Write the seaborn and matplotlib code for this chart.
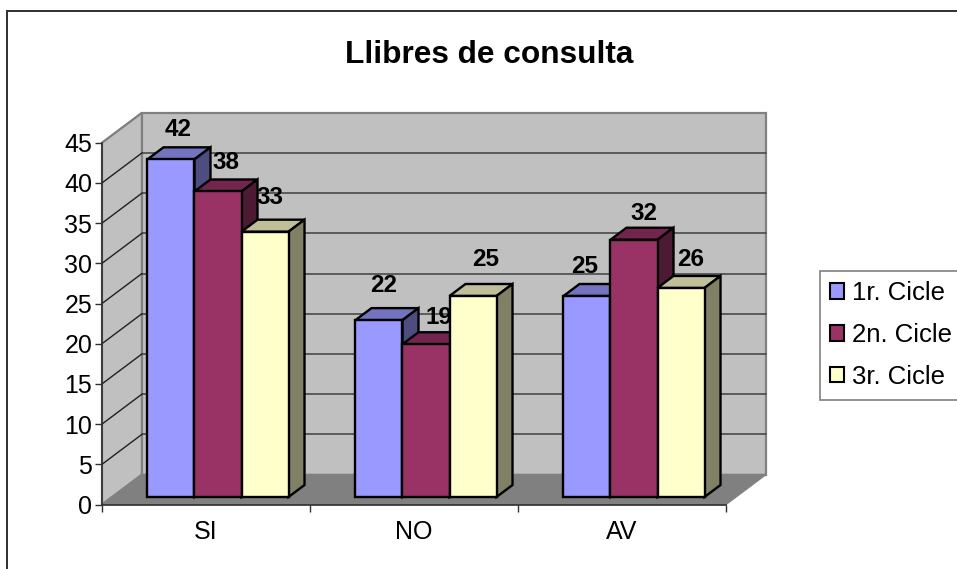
from __future__ import annotations

import matplotlib
matplotlib.use("Agg")
import matplotlib.pyplot as plt
import pandas as pd
import seaborn as sns
from matplotlib.patches import Polygon, Rectangle

categories = ["SI", "NO", "AV"]
cicles = ["1r. Cicle", "2n. Cicle", "3r. Cicle"]
cicle_1 = [42, 22, 25]
cicle_2 = [38, 19, 32]
cicle_3 = [33, 25, 26]
yticks = list(range(0, 50, 5))

front_colors = ["#9999FF", "#993366", "#FFFFCC"]
top_colors = ["#7373BF", "#73264D", "#BFBF99"]
side_colors = ["#4D4D80", "#4D1A33", "#808066"]

# the labels sit a bit unevenly in the original, pixel nudges left to right
label_nudge = [(7, 18), (8, 17), (5, 22), (5, 23), (13, 15), (13, 24), (-2, 17), (10, 14), (10, 16)]

W, H = 957, 569
# plot box in pixels, the chart is a fake 3d one so the rest hangs off this
LEFT, RIGHT, TOP, BOTTOM = 102, 726, 142.7, 504.5

sns.set_style("ticks")
plt.rcParams["font.family"] = ["Liberation Sans", "DejaVu Sans"]
plt.rcParams["text.color"] = "black"
plt.rcParams["xtick.labelcolor"] = "black"
plt.rcParams["ytick.labelcolor"] = "black"

df = pd.DataFrame(
    {
        "categoria": categories * 3,
        "cicle": [c for c in cicles for _ in categories],
        "valor": cicle_1 + cicle_2 + cicle_3,
    }
)

fig = plt.figure(figsize=(W / 100, H / 100), dpi=100)
ax = fig.add_axes([LEFT / W, 1 - BOTTOM / H, (RIGHT - LEFT) / W, (BOTTOM - TOP) / H])
ax.patch.set_visible(False)

sns.barplot(
    data=df, x="categoria", y="valor", hue="cicle", hue_order=cicles,
    palette=front_colors, saturation=1, width=0.678, gap=0,
    edgecolor="black", linewidth=1.7, ax=ax,
)
handles, labels = ax.get_legend_handles_labels()
ax.get_legend().remove()

ax.set_xlim(-0.5, 2.5)
ax.set_ylim(0, 45)


def off_x(px):
    return px * 3 / (RIGHT - LEFT)


def off_y(px):
    return px * 45 / (BOTTOM - TOP)


def poly(points, **kw):
    ax.add_patch(Polygon(points, closed=True, clip_on=False, **kw))


# walls and floor
wx, wy = off_x(40), off_y(30)
poly([(-0.5, 0), (-0.5, 45), (-0.5 + wx, 45 + wy), (-0.5 + wx, wy)],
     facecolor="#C0C0C0", edgecolor="#808080", linewidth=1.6, zorder=0.5)
poly([(-0.5 + wx, wy), (-0.5 + wx, 45 + wy), (2.5 + wx, 45 + wy), (2.5 + wx, wy)],
     facecolor="#C0C0C0", edgecolor="#808080", linewidth=1.6, zorder=0.5)
poly([(-0.5, 0), (-0.5 + wx, wy), (2.5 + wx, wy), (2.5, 0)],
     facecolor="#808080", edgecolor="#808080", linewidth=1, zorder=0.6)

for v in yticks[1:-1] + [45]:
    if v < 45:
        ax.plot([-0.5 + wx, 2.5 + wx], [v + wy, v + wy], color="#404040", lw=1.1,
                zorder=0.7, clip_on=False)
    ax.plot([-0.5, -0.5 + wx], [v, v + wy], color="#202020" if v < 45 else "#808080",
            lw=1, zorder=0.7, clip_on=False)

# bars with their top and side faces, left to right so they overlap properly
dx, dy = off_x(16), off_y(12)
shift_x, shift_y = off_x(12), off_y(7.5)
bars = []
for i, container in enumerate(ax.containers):
    for rect in container:
        bars.append((rect, i))
bars.sort(key=lambda b: b[0].get_x())

for n, (rect, i) in enumerate(bars):
    z = 3 + n * 0.1
    rect.set_x(rect.get_x() + shift_x)
    rect.set_y(shift_y)
    rect.set_zorder(z + 0.02)
    rect.set_clip_on(False)
    x0 = rect.get_x()
    x1 = x0 + rect.get_width()
    y0 = rect.get_y()
    y1 = y0 + rect.get_height()
    poly([(x0, y1), (x0 + dx, y1 + dy), (x1 + dx, y1 + dy), (x1, y1)],
         facecolor=top_colors[i], edgecolor="black", linewidth=1.7, zorder=z)
    poly([(x1, y0), (x1 + dx, y0 + dy), (x1 + dx, y1 + dy), (x1, y1)],
         facecolor=side_colors[i], edgecolor="black", linewidth=1.7, zorder=z)
    ax.annotate(
        f"{rect.get_height():.0f}", (x0 + rect.get_width() / 2, y1 + dy),
        xytext=label_nudge[n], textcoords="offset pixels", ha="center", va="center",
        fontsize=17.5, fontweight="bold", color="black", zorder=10, annotation_clip=False,
    )

# axes
ax.set_xlabel("")
ax.set_ylabel("")
ax.set_yticks(yticks)
ax.set_xticks([-0.5, 0.5, 1.5, 2.5], labels=[])
ax.set_xticks(range(len(categories)), labels=categories, minor=True)
ax.tick_params(axis="x", which="major", length=5, width=1, color="#303030")
ax.tick_params(axis="x", which="minor", length=0, labelsize=18, pad=11)
ax.tick_params(axis="y", length=5, width=1, color="#303030", labelsize=18, pad=2)
sns.despine(ax=ax)
for side in ["left", "bottom"]:
    ax.spines[side].set_color("#303030")
    ax.spines[side].set_linewidth(1.2)
    ax.spines[side].set_zorder(2)

fig.text(489 / W, 1 - 55 / H, "Llibres de consulta", ha="center", va="center",
         fontsize=22.8, fontweight="bold")

leg = fig.legend(
    handles, labels, loc="upper left", bbox_to_anchor=(819.5 / W, 1 - 270.5 / H),
    fontsize=18.5, frameon=True, fancybox=False, framealpha=1, edgecolor="#808080",
    handlelength=0.55, handleheight=0.55, handletextpad=0.3, labelspacing=0.69,
    borderpad=0.42, borderaxespad=0,
)
leg.get_frame().set_linewidth(1.2)
for h in leg.legend_handles:
    h.set_edgecolor("black")
    h.set_linewidth(1.5)

# outer chart border, cut off by the image at the bottom
fig.add_artist(Rectangle((7.5 / W, -0.05), (W + 20) / W, 1.05 - 11 / H, transform=fig.transFigure,
                         facecolor="none", edgecolor="#303030", linewidth=1.4))

fig.savefig("out.png", dpi=100)
plt.close(fig)
